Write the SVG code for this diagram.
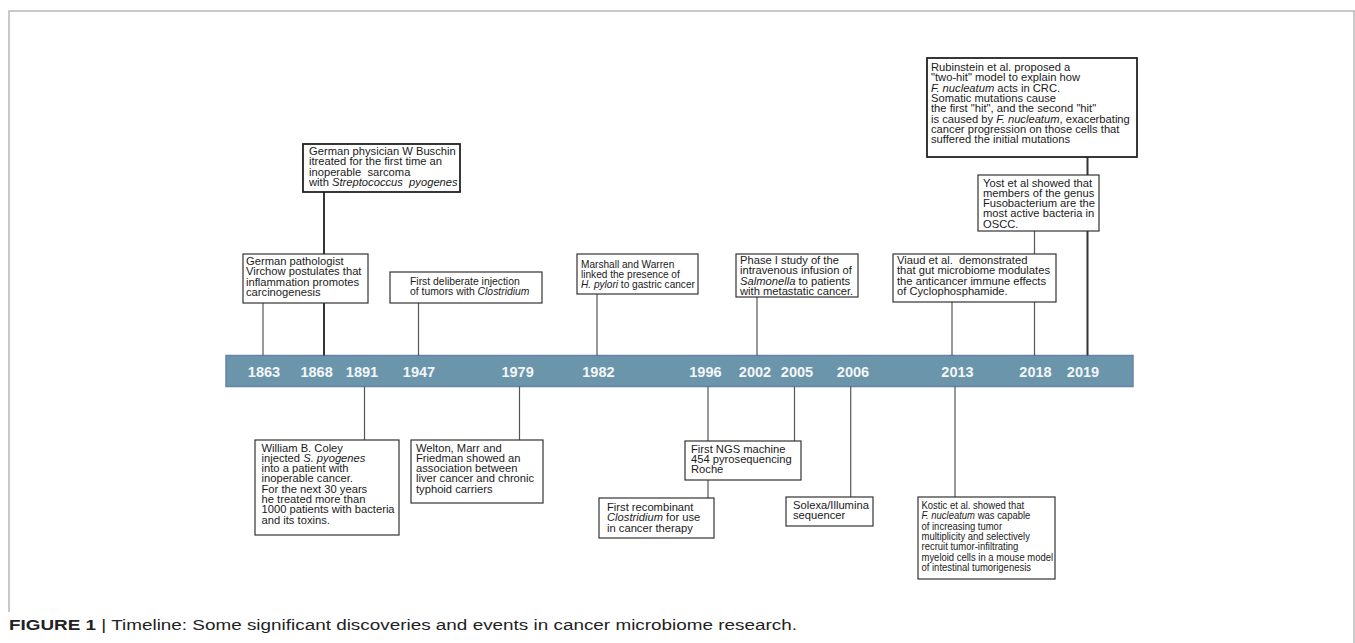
<svg xmlns="http://www.w3.org/2000/svg" width="1355" height="643" viewBox="0 0 1355 643">
<style>
.box{fill:#fff;stroke:#333;stroke-width:1.2}
.boxb{fill:#fff;stroke:#222;stroke-width:1.8}
.t{font-family:"Liberation Sans",Arial,sans-serif;font-size:11.2px;fill:#1a1a1a;white-space:pre}
.s{font-size:10.4px}
.m{font-size:10.1px}
.k{font-size:10.9px}
.i{font-style:italic}
.ln{stroke:#555;stroke-width:1.2;fill:none}
.lnb{stroke:#333;stroke-width:2;fill:none}
.yr{font-family:"Liberation Sans",Arial,sans-serif;font-size:14.5px;font-weight:bold;fill:#f4f6f8;text-anchor:middle}
.frame{stroke:#b8b8b8;stroke-width:1.5;fill:none}
</style>
<rect width="1355" height="643" fill="#fff"/>
<g id="frame">
<path class="frame" d="M9,612 V11 H1355"/>
<path class="frame" d="M1354,11 V643"/>
</g>
<g id="timeline">
<rect x="226" y="355.5" width="907" height="31" fill="#6a95ab" stroke="#6682aa" stroke-width="1.5"/>
<text class="yr" x="264" y="377">1863</text>
<text class="yr" x="316.6" y="377">1868</text>
<text class="yr" x="362" y="377">1891</text>
<text class="yr" x="419" y="377">1947</text>
<text class="yr" x="517.6" y="377">1979</text>
<text class="yr" x="598.4" y="377">1982</text>
<text class="yr" x="705.4" y="377">1996</text>
<text class="yr" x="755" y="377">2002</text>
<text class="yr" x="797" y="377">2005</text>
<text class="yr" x="853" y="377">2006</text>
<text class="yr" x="957.5" y="377">2013</text>
<text class="yr" x="1035.5" y="377">2018</text>
<text class="yr" x="1083" y="377">2019</text>
</g>
<g id="connectors">
<line class="ln" x1="263" y1="303" x2="263" y2="355.5"/>
<line class="lnb" x1="324" y1="192" x2="324" y2="355.5"/>
<line class="ln" x1="418.5" y1="303" x2="418.5" y2="355.5"/>
<line class="ln" x1="597" y1="294" x2="597" y2="355.5"/>
<line class="ln" x1="757" y1="297" x2="757" y2="355.5"/>
<line class="ln" x1="952" y1="302" x2="952" y2="355.5"/>
<line class="ln" x1="1034.5" y1="231" x2="1034.5" y2="355.5"/>
<line class="lnb" x1="1087.5" y1="157" x2="1087.5" y2="355.5"/>
<line class="ln" x1="364.5" y1="386.5" x2="364.5" y2="440"/>
<line class="ln" x1="519.5" y1="386.5" x2="519.5" y2="440"/>
<line class="ln" x1="708" y1="386.5" x2="708" y2="498"/>
<line class="ln" x1="794.5" y1="386.5" x2="794.5" y2="441"/>
<line class="ln" x1="850.7" y1="386.5" x2="850.7" y2="497"/>
<line class="ln" x1="955" y1="386.5" x2="955" y2="497"/>
</g>
<g id="n1863">
<rect class="box" x="243" y="254" width="125" height="49"/>
<text class="t" x="246" y="265">German pathologist</text>
<text class="t" x="246" y="275.3">Virchow postulates that</text>
<text class="t" x="246" y="285.6">inflammation promotes</text>
<text class="t" x="246" y="295.9">carcinogenesis</text>
</g>
<g id="n1868">
<rect class="boxb" x="303" y="144" width="157" height="48"/>
<text class="t" x="309" y="155">German physician W Buschin</text>
<text class="t" x="309" y="165.3">itreated for the first time an</text>
<text class="t" x="309" y="175.6">inoperable  sarcoma</text>
<text class="t" x="309" y="185.9">with <tspan class="i">Streptococcus  pyogenes</tspan></text>
</g>
<g id="n1947">
<rect class="box" x="390" y="272" width="152" height="31"/>
<text class="t s" x="410" y="284.5">First deliberate injection</text>
<text class="t s" x="410" y="294.8">of tumors with <tspan class="i">Clostridium</tspan></text>
</g>
<g id="n1982">
<rect class="box" x="577" y="254" width="121" height="40"/>
<text class="t m" x="581" y="267.5">Marshall and Warren</text>
<text class="t m" x="581" y="277.8">linked the presence of</text>
<text class="t m" x="581" y="288.1"><tspan class="i">H. pylori</tspan> to gastric cancer</text>
</g>
<g id="n2002">
<rect class="box" x="736" y="254" width="122" height="43"/>
<text class="t" x="740" y="264">Phase I study of the</text>
<text class="t" x="740" y="274.3">intravenous infusion of</text>
<text class="t" x="740" y="284.6"><tspan class="i">Salmonella</tspan> to patients</text>
<text class="t" x="740" y="294.9">with metastatic cancer.</text>
</g>
<g id="n2013a">
<rect class="box" x="893" y="254" width="163" height="48"/>
<text class="t" x="897" y="264">Viaud et al.  demonstrated</text>
<text class="t" x="897" y="274.3">that gut microbiome modulates</text>
<text class="t" x="897" y="284.6">the anticancer immune effects</text>
<text class="t" x="897" y="294.9">of Cyclophosphamide.</text>
</g>
<g id="n2018">
<rect class="box" x="978" y="175" width="121" height="56"/>
<text class="t" x="983" y="186.5">Yost et al showed that</text>
<text class="t" x="983" y="196.8">members of the genus</text>
<text class="t" x="983" y="207.1">Fusobacterium are the</text>
<text class="t" x="983" y="217.4">most active bacteria in</text>
<text class="t" x="983" y="227.7">OSCC.</text>
</g>
<g id="n2019">
<rect class="boxb" x="927" y="58" width="210" height="99"/>
<text class="t" x="931" y="71">Rubinstein et al. proposed a</text>
<text class="t" x="931" y="81.3">"two-hit" model to explain how</text>
<text class="t" x="931" y="91.6"><tspan class="i">F. nucleatum</tspan> acts in CRC.</text>
<text class="t" x="931" y="101.9">Somatic mutations cause</text>
<text class="t" x="931" y="112.2">the first "hit", and the second "hit"</text>
<text class="t" x="931" y="122.5">is caused by <tspan class="i">F. nucleatum</tspan>, exacerbating</text>
<text class="t" x="931" y="132.8">cancer progression on those cells that</text>
<text class="t" x="931" y="143.1">suffered the initial mutations</text>
</g>
<g id="n1891">
<rect class="box" x="255" y="440" width="144" height="95"/>
<text class="t" x="261.5" y="451.5">William B. Coley</text>
<text class="t" x="261.5" y="461.8">injected <tspan class="i">S. pyogenes</tspan></text>
<text class="t" x="261.5" y="472.1">into a patient with</text>
<text class="t" x="261.5" y="482.4">inoperable cancer.</text>
<text class="t" x="261.5" y="492.7">For the next 30 years</text>
<text class="t" x="261.5" y="503">he treated more than</text>
<text class="t" x="261.5" y="513.3">1000 patients with bacteria</text>
<text class="t" x="261.5" y="523.6">and its toxins.</text>
</g>
<g id="n1979">
<rect class="box" x="411" y="440" width="132" height="63"/>
<text class="t" x="416" y="451.5">Welton, Marr and</text>
<text class="t" x="416" y="461.8">Friedman showed an</text>
<text class="t" x="416" y="472.1">association between</text>
<text class="t" x="416" y="482.4">liver cancer and chronic</text>
<text class="t" x="416" y="492.7">typhoid carriers</text>
</g>
<g id="n2005">
<rect class="box" x="685" y="441" width="116" height="39"/>
<text class="t" x="691" y="452.5">First NGS machine</text>
<text class="t" x="691" y="462.8">454 pyrosequencing</text>
<text class="t" x="691" y="473.1">Roche</text>
</g>
<g id="n1996">
<rect class="box" x="599" y="498" width="115" height="40"/>
<text class="t" x="607" y="511">First recombinant</text>
<text class="t" x="607" y="521.3"><tspan class="i">Clostridium</tspan> for use</text>
<text class="t" x="607" y="531.6">in cancer therapy</text>
</g>
<g id="n2006">
<rect class="box" x="786" y="497" width="87" height="29"/>
<text class="t" x="793" y="508.5">Solexa/Illumina</text>
<text class="t" x="793" y="518.8">sequencer</text>
</g>
<g id="n2013b">
<rect class="box" x="918" y="497" width="137" height="82"/>
<g transform="translate(921.5,0) scale(0.87,1) translate(-921.5,0)">
<text class="t k" x="921.5" y="508.8">Kostic et al. showed that</text>
<text class="t k" x="921.5" y="519.2"><tspan class="i">F. nucleatum</tspan> was capable</text>
<text class="t k" x="921.5" y="529.6">of increasing tumor</text>
<text class="t k" x="921.5" y="540">multiplicity and selectively</text>
<text class="t k" x="921.5" y="550.4">recruit tumor-infiltrating</text>
<text class="t k" x="921.5" y="560.8">myeloid cells in a mouse model</text>
<text class="t k" x="921.5" y="571.2">of intestinal tumorigenesis</text>
</g>
</g>
<g id="caption">
<text x="9" y="630" font-family="'Liberation Sans',Arial,sans-serif" font-size="14" fill="#222" textLength="788" lengthAdjust="spacingAndGlyphs"><tspan font-weight="bold">FIGURE 1</tspan> | Timeline: Some significant discoveries and events in cancer microbiome research.</text>
</g>
</svg>
